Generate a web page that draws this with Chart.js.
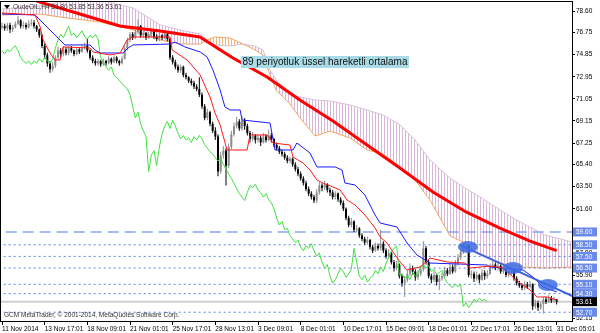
<!DOCTYPE html>
<html><head><meta charset="utf-8">
<script src="https://cdn.jsdelivr.net/npm/chart.js@4.4.1/dist/chart.umd.min.js"></script>
<style>html,body{margin:0;padding:0;background:#fff;overflow:hidden}canvas{display:block}</style>
</head><body>
<canvas id="c" width="600" height="333"></canvas>
<script>
// ---------- data ----------
const symbolInfo = 'OudeOIL,H4 53.80 53.85 53.36 53.61';
const copyright = 'GCM MetaTrader, \u00a9 2001-2014, MetaQuotes Software Corp.';
const emaNote = '89 periyotluk \u00fcssel hareketli ortalama';
const noteBar = 89.6, noteValue = 74.73;

const timeTickBars = [0,16,32,48,64,80,96,112,128,144,160,176,192,208];
const timeLabels = ['11 Nov 2014','13 Nov 17:01','18 Nov 09:01','21 Nov 01:01','25 Nov 17:01','28 Nov 13:01','3 Dec 09:01','8 Dec 01:01','10 Dec 17:01','15 Dec 09:01','18 Dec 01:01','22 Dec 17:01','26 Dec 13:01','31 Dec 05:01'];
const yTickValues = [78.60,76.75,74.85,72.95,71.05,69.15,67.25,65.40,63.50,61.60,57.80,55.90,52.15];
const levelLines = [59.60,58.50,57.50,56.50,55.10,54.30,52.70];
const dashedLevel = 59.60;
const lastPrice = 53.61;

const open = [77.2,77.3,77.1,77.4,77.0,77.2,77.5,77.8,77.3,77.4,
77.2,77.5,77.6,77.3,77.0,76.5,75.6,74.8,74.1,73.6,
73.9,74.6,75.2,74.9,75.3,75.0,75.4,75.2,74.9,75.3,
75.1,75.4,75.6,75.2,74.6,74.3,74.1,74.3,74.0,74.3,
74.1,74.5,74.2,74.6,74.3,74.1,74.5,75.4,76.1,76.6,
76.3,76.8,77.3,76.5,76.7,76.3,76.6,76.9,76.4,76.2,
76.5,76.3,76.6,76.2,74.6,74.2,73.8,73.5,73.8,73.1,
72.9,72.6,72.4,72.1,71.9,71.4,70.4,69.4,69.9,68.9,
68.3,67.8,64.8,66.2,66.6,65.3,66.9,68.0,68.7,69.1,
68.5,69.2,68.7,68.1,67.6,67.9,67.5,67.7,67.3,67.8,
67.5,67.9,67.6,67.1,66.8,66.5,66.3,66.0,65.7,65.9,
65.4,65.0,64.6,64.2,63.8,63.3,62.9,62.6,62.3,63.0,
63.6,63.4,63.7,63.2,63.0,62.6,62.9,62.4,62.1,61.6,
60.8,60.2,60.5,59.8,59.9,59.3,59.0,58.7,58.9,58.3,
58.0,58.4,58.2,58.6,58.0,57.5,57.8,57.0,56.5,56.8,
55.8,55.2,55.5,56.0,56.5,56.2,55.7,56.0,56.4,58.2,
57.0,55.8,55.5,55.9,55.3,55.6,55.8,56.3,56.0,56.6,
56.2,56.9,57.4,57.9,58.2,58.4,55.9,56.0,55.6,55.9,
55.5,56.1,55.8,56.0,56.6,56.8,56.5,56.7,56.2,56.4,
55.9,56.1,56.3,55.6,55.2,55.0,54.8,55.1,54.9,55.1,
53.2,53.5,53.1,53.4,53.8,53.6,53.9,53.7,53.80];
const high = [77.6,77.5,77.6,77.6,77.4,77.7,78.2,77.9,77.7,77.6,
77.8,77.9,77.8,77.4,77.1,76.6,75.8,75.0,74.3,74.2,
74.8,75.5,75.4,75.6,75.5,75.6,75.6,75.3,75.5,75.4,
75.7,75.9,76.2,75.3,74.8,74.5,74.5,74.4,74.5,74.4,
74.7,74.6,74.8,74.7,74.4,74.7,75.6,76.3,76.8,76.8,
77.0,77.9,77.4,76.9,76.8,76.8,77.1,77.0,76.6,76.7,
76.6,76.8,76.7,76.3,74.8,74.4,74.0,74.0,73.9,73.3,
73.0,72.8,72.6,72.3,72.9,71.6,70.6,70.2,70.0,69.1,
68.6,68.0,66.5,67.0,66.8,67.2,68.3,69.0,69.5,69.3,
69.6,69.4,68.9,68.3,68.2,68.0,68.0,67.9,68.1,68.0,
68.4,68.1,67.7,67.3,67.0,66.7,66.5,66.2,66.1,66.0,
65.6,65.2,64.8,64.4,64.0,63.5,63.1,62.8,63.3,63.9,
63.8,64.0,63.8,63.4,63.2,63.1,63.0,62.6,62.3,61.7,
61.0,60.8,60.6,60.2,60.0,59.5,59.2,59.2,59.0,58.5,
58.7,58.6,59.8,58.8,58.2,58.1,57.9,57.2,57.1,56.9,
56.0,55.8,56.3,56.9,56.7,56.4,56.3,56.7,58.8,58.4,
57.2,56.0,56.2,56.0,55.9,56.1,56.6,56.5,56.9,56.8,
57.2,57.7,58.2,58.6,58.8,58.5,56.3,56.2,56.2,56.0,
56.4,56.3,56.3,56.9,57.1,57.0,57.0,56.8,56.7,56.5,
56.4,56.6,56.4,55.8,55.4,55.2,55.4,55.3,55.4,55.2,
53.8,53.7,53.6,54.0,54.0,54.2,54.1,54.0,53.85];
const low = [77.0,76.9,76.9,76.7,76.8,77.1,77.4,77.1,77.1,77.0,
77.1,77.3,77.1,76.8,76.3,75.4,74.5,73.8,73.3,73.4,
73.7,74.4,74.6,74.7,74.8,74.8,75.0,74.7,74.8,74.9,
75.0,75.3,75.0,74.4,74.1,73.9,73.9,73.8,73.9,73.9,
74.0,74.0,74.1,74.1,73.9,74.0,74.4,75.2,75.9,76.1,
76.2,76.6,76.3,76.3,76.1,76.2,76.4,76.2,76.0,76.0,
76.1,76.2,76.0,74.4,74.0,73.6,73.3,73.3,72.9,72.7,
72.4,72.2,71.9,71.7,71.2,70.2,69.2,69.2,68.7,68.1,
67.5,64.4,64.6,65.9,63.6,65.1,66.7,67.8,68.5,68.3,
68.3,68.4,67.9,67.3,67.4,67.2,67.3,67.0,67.2,67.3,
67.4,67.3,66.9,66.6,66.3,66.1,65.8,65.5,65.5,65.2,
64.8,64.4,64.0,63.6,63.1,62.7,62.4,62.1,62.1,62.8,
63.1,63.2,63.0,62.7,62.4,62.4,62.2,61.9,61.4,60.6,
60.0,60.0,59.6,59.6,59.1,58.8,58.5,58.5,58.1,57.8,
57.9,58.0,58.0,57.8,57.3,57.3,56.8,56.2,56.3,55.6,
54.9,54.0,55.3,55.8,55.9,55.4,55.5,55.8,56.2,56.8,
55.6,55.2,55.3,55.0,54.6,55.4,55.6,55.8,55.9,56.0,
56.1,56.7,57.2,57.7,57.9,55.7,55.6,55.3,55.4,55.2,
55.4,55.5,55.6,55.9,56.4,56.3,56.3,56.0,56.0,55.7,
55.7,55.9,55.4,55.0,54.8,54.6,54.6,54.7,54.8,52.9,
53.0,52.8,52.9,52.6,53.4,53.5,53.5,53.5,53.36];
const close = [77.3,77.1,77.4,77.0,77.2,77.5,77.8,77.3,77.4,77.2,
77.5,77.6,77.3,77.0,76.5,75.6,74.8,74.1,73.6,73.9,
74.6,75.2,74.9,75.3,75.0,75.4,75.2,74.9,75.3,75.1,
75.4,75.6,75.2,74.6,74.3,74.1,74.3,74.0,74.3,74.1,
74.5,74.2,74.6,74.3,74.1,74.5,75.4,76.1,76.6,76.3,
76.8,77.3,76.5,76.7,76.3,76.6,76.9,76.4,76.2,76.5,
76.3,76.6,76.2,74.6,74.2,73.8,73.5,73.8,73.1,72.9,
72.6,72.4,72.1,71.9,71.4,70.4,69.4,69.9,68.9,68.3,
67.8,64.8,66.2,66.6,65.3,66.9,68.0,68.7,69.1,68.5,
69.2,68.7,68.1,67.6,67.9,67.5,67.7,67.3,67.8,67.5,
67.9,67.6,67.1,66.8,66.5,66.3,66.0,65.7,65.9,65.4,
65.0,64.6,64.2,63.8,63.3,62.9,62.6,62.3,63.0,63.6,
63.4,63.7,63.2,63.0,62.6,62.9,62.4,62.1,61.6,60.8,
60.2,60.5,59.8,59.9,59.3,59.0,58.7,58.9,58.3,58.0,
58.4,58.2,58.6,58.0,57.5,57.8,57.0,56.5,56.8,55.8,
55.2,55.5,56.0,56.5,56.2,55.7,56.0,56.4,58.2,57.0,
55.8,55.5,55.9,55.3,55.6,55.8,56.3,56.0,56.6,56.2,
56.9,57.4,57.9,58.2,58.4,55.9,56.0,55.6,55.9,55.5,
56.1,55.8,56.0,56.6,56.8,56.5,56.7,56.2,56.4,55.9,
56.1,56.3,55.6,55.2,55.0,54.8,55.1,54.9,55.1,53.2,
53.5,53.1,53.4,53.8,53.6,53.9,53.7,53.8,53.61];

const chikouShift = 26;

const tenkanBars = [0,12.4,14.3,15.4,18,19.9,21.8,22.9,33,34.1,40.5,44.3,46.9,49.1,63,63.8,69.4,74.3,78,79.9,81.8,84.4,91.9,93,99.4,101.6,108,109.1,112.9,115.5,118.1,120.4,124.1,126.8,129.4,132.4,136.1,139.9,141.8,144.4,146.6,149.3,151.9,156.8,160.5,166.9,173.6,175.5,183,187.9,191.6,194.3,198,200.6,204.4,208.1];
const tenkanValues = [78.43,78.26,77.23,76.11,74.99,74.39,74.39,75.51,75.42,75.08,74.82,74.99,76.11,76.37,76.37,75.25,74.39,73.10,71.21,69.83,68.80,66.65,66.65,67.94,67.94,67.25,67.08,66.05,65.53,64.93,64.07,63.81,63.47,63.21,62.35,61.92,61.06,59.94,59.17,58.65,57.88,57.02,56.33,56.59,57.36,57.02,56.93,56.50,56.67,56.50,55.73,55.21,54.61,54.01,54.01,53.75];

const kijunBars = [0,12.4,16.1,19.9,23.6,33,34.9,36.8,45.4,47.3,49.1,63,64.9,68.6,74.3,76.9,79.1,81.8,83.6,85.5,89.3,90,100.5,102.4,109.1,110.6,115.5,118.1,124.9,127.5,128.6,132.4,136.1,139.9,141.8,148.1,151.9,155.6,160.5,181.9,183,195.4,199.1,202.9,208.1];
const kijunValues = [78.34,78.26,77.40,76.54,75.68,75.68,75.25,74.99,74.99,75.42,75.68,75.76,75.93,75.51,75.08,74.65,73.53,71.81,70.35,70.09,70.09,69.23,68.97,66.65,66.65,67.25,66.39,65.19,65.19,64.93,63.81,63.64,62.78,61.06,60.37,60.03,58.65,57.62,56.93,56.76,56.59,56.33,55.73,54.87,54.44];

const emaBars = [8,14.2,29.2,44.2,59.2,74.2,86.6,99.4,111.7,124.1,136.9,149.2,161.6,174.0,186.7,198.0,208];
const emaValues = [79.90,79.37,78.34,77.31,76.88,76.36,74.56,72.92,70.95,69.14,67.08,65.10,63.04,61.32,59.94,58.82,58.00];

const cloudBars = [0,14.3,21.8,36.8,49.1,59.3,66.8,74.3,76.9,79.9,85.5,90.4,94.9,97.9,100.5,102.8,108,111.8,117.4,123,130.5,136.9,142.9,149.3,154.9,160.5,168,173.6,179.3,186.8,194.3,203.6,213.8];
const spanA = [78.26,78.34,78.08,77.65,76.97,76.11,75.76,75.76,76.11,76.37,76.28,75.76,75.25,74.82,73.10,71.81,70.60,69.40,67.85,68.28,67.68,66.65,66.31,65.19,64.07,62.35,59.26,58.65,57.62,56.93,56.59,56.50,56.59];
const spanB = [78.77,79.03,79.37,79.55,78.86,77.40,76.97,76.62,76.11,75.68,75.59,75.76,75.59,75.25,73.53,72.67,71.38,71.21,70.95,70.86,70.52,70.09,69.66,68.80,67.51,65.79,64.24,63.38,62.61,61.49,60.46,59.34,58.74];

const trendBars = [172, 215];
const trendValues = [58.45, 53.97];
const markerBars = [174.7, 191.6, 204.7];
const markerValues = [58.31, 56.50, 55.04];

// ---------- helpers / styles ----------
const FONT = '"Liberation Sans", Arial, sans-serif';
const pts = (xs, ys) => xs.map((b, k) => ({x: b, y: ys[k]}));
const flat = v => [{x: -5, y: v}, {x: 220, y: v}];
function hatch(color) {
  const c = document.createElement('canvas'); c.width = 3; c.height = 4;
  const g = c.getContext('2d'); g.fillStyle = color; g.fillRect(0, 0, 1, 4);
  return g.createPattern(c, 'repeat');
}
const BULL = '#8c8c8c', BEAR = '#000000';
const candleColors = close.map((c, i) => c >= open[i] ? BULL : BEAR);

const datasets = [
  {type:'line', data: pts(trendBars, trendValues), borderColor:'#3d64dc', borderWidth:2, pointRadius:0, order:0},
  {type:'line', data: pts(emaBars, emaValues), borderColor:'#ff0000', borderWidth:3, pointRadius:0, order:1},
  {type:'line', data: pts(tenkanBars, tenkanValues), borderColor:'#ff1a1a', borderWidth:1, pointRadius:0, order:2},
  {type:'line', data: pts(kijunBars, kijunValues), borderColor:'#1a1aff', borderWidth:1, pointRadius:0, order:2},
  {type:'line', data: close.slice(chikouShift).map((c, k) => ({x: k, y: c})), borderColor:'#3fe03f', borderWidth:1, pointRadius:0, order:3},
  {type:'bar', data: close.map((c, i) => ({x: i, y: [open[i], c]})), backgroundColor: candleColors, barThickness:2, minBarLength:1, grouped:false, inflateAmount:0, borderWidth:0, order:4},
  {type:'bar', data: close.map((c, i) => ({x: i, y: [low[i], high[i]]})), backgroundColor: candleColors, barThickness:1, grouped:false, inflateAmount:0, borderWidth:0, order:5},
];
levelLines.forEach(v => datasets.push({type:'line', data: flat(v), borderColor: v === dashedLevel ? '#8aa4ee' : '#5f80e6', borderWidth: v === dashedLevel ? 1.5 : 1, borderDash: v === dashedLevel ? [11, 6] : [2, 3], pointRadius:0, order:6}));
datasets.push({type:'line', data: flat(lastPrice), borderColor:'#cfcfcf', borderWidth:2, pointRadius:0, order:7});
const idxB = datasets.length;
datasets.push({type:'line', data: pts(cloudBars, spanB), borderColor:'#d8bfd8', borderWidth:1, pointRadius:0, order:8});
datasets.push({type:'line', data: pts(cloudBars, spanA), borderColor:'#f4a460', borderWidth:1, pointRadius:0, order:9,
  fill: {target: idxB, above: hatch('#f6b47a'), below: hatch('#d9b6d9')}});

const overlay = {
  id: 'overlay',
  afterDatasetsDraw(chart) {
    const {ctx, chartArea: a, scales: {x, y}} = chart;
    ctx.save();
    ctx.beginPath(); ctx.rect(a.left, a.top, a.right - a.left, a.bottom - a.top); ctx.clip();
    ctx.fillStyle = 'rgba(62,108,228,0.85)';
    markerBars.forEach((b, k) => {
      ctx.beginPath();
      ctx.ellipse(x.getPixelForValue(b), y.getPixelForValue(markerValues[k]), 10, 6, 0, 0, Math.PI * 2);
      ctx.fill();
    });
    ctx.font = '10px ' + FONT; ctx.textBaseline = 'middle'; ctx.textAlign = 'left';
    const ax = x.getPixelForValue(noteBar), ay = y.getPixelForValue(noteValue);
    const tw = ctx.measureText(emaNote).width;
    ctx.fillStyle = '#a9dbe7'; ctx.fillRect(ax, ay, tw + 3, 12);
    ctx.fillStyle = '#111'; ctx.fillText(emaNote, ax + 1.5, ay + 6.5);
    ctx.fillStyle = '#000';
    ctx.beginPath(); ctx.moveTo(4, 5); ctx.lineTo(10, 5); ctx.lineTo(7, 9); ctx.closePath(); ctx.fill();
    ctx.font = '6.5px ' + FONT; ctx.fillStyle = '#333';
    ctx.fillText(symbolInfo, 13, 7.5);
    ctx.fillText(copyright, 4, 315);
    ctx.restore();
  },
  afterDraw(chart) {
    const {ctx, chartArea: a, scales: {y}} = chart;
    ctx.save();
    ctx.strokeStyle = '#000'; ctx.lineWidth = 1;
    ctx.strokeRect(a.left - 0.5, a.top - 0.5, a.right - a.left + 1, a.bottom - a.top + 1);
    ctx.font = '6.5px ' + FONT; ctx.textBaseline = 'middle'; ctx.textAlign = 'left';
    const box = (v, bg) => {
      const py = y.getPixelForValue(v);
      ctx.fillStyle = bg; ctx.fillRect(a.right + 1, py - 4.5, 24, 9);
      ctx.fillStyle = '#fff'; ctx.fillText(v.toFixed(2), a.right + 4, py + 0.5);
    };
    levelLines.forEach(v => box(v, '#6a8ae8'));
    box(lastPrice, '#000');
    ctx.restore();
  }
};

new Chart(document.getElementById('c'), {
  type: 'line',
  data: {datasets},
  plugins: [overlay],
  options: {
    responsive: false, animation: false, events: [],
    layout: {padding: {left: 1, top: 2, right: 0, bottom: 0}},
    plugins: {legend: {display: false}, tooltip: {enabled: false}, title: {display: false}},
    scales: {
      x: {
        type: 'linear', min: -0.375, max: 213.75, offset: false,
        afterBuildTicks: s => { s.ticks = timeTickBars.map(v => ({value: v})); },
        afterFit: s => { s.height = 12; s.paddingLeft = 0; s.paddingRight = 0; },
        grid: {drawOnChartArea: false, drawTicks: true, tickLength: 4, color: '#000', offset: false},
        border: {display: true, color: '#000'},
        ticks: {autoSkip: false, maxRotation: 0, minRotation: 0, align: 'start', padding: 0, color: '#000',
          font: {size: 6.5, family: FONT},
          callback: v => { const k = timeTickBars.indexOf(v); return k >= 0 ? timeLabels[k] : ''; }}
      },
      y: {
        type: 'linear', position: 'right', min: 51.946, max: 79.374,
        afterBuildTicks: s => { s.ticks = yTickValues.map(v => ({value: v})); },
        afterFit: s => { s.width = 28; s.paddingTop = 0; s.paddingBottom = 0; },
        grid: {drawOnChartArea: false, drawTicks: true, tickLength: 3, color: '#000'},
        border: {display: true, color: '#000'},
        ticks: {autoSkip: false, padding: 1, color: '#000', font: {size: 6.5, family: FONT},
          callback: v => Number(v).toFixed(2)}
      }
    }
  }
});
</script>
</body></html>
